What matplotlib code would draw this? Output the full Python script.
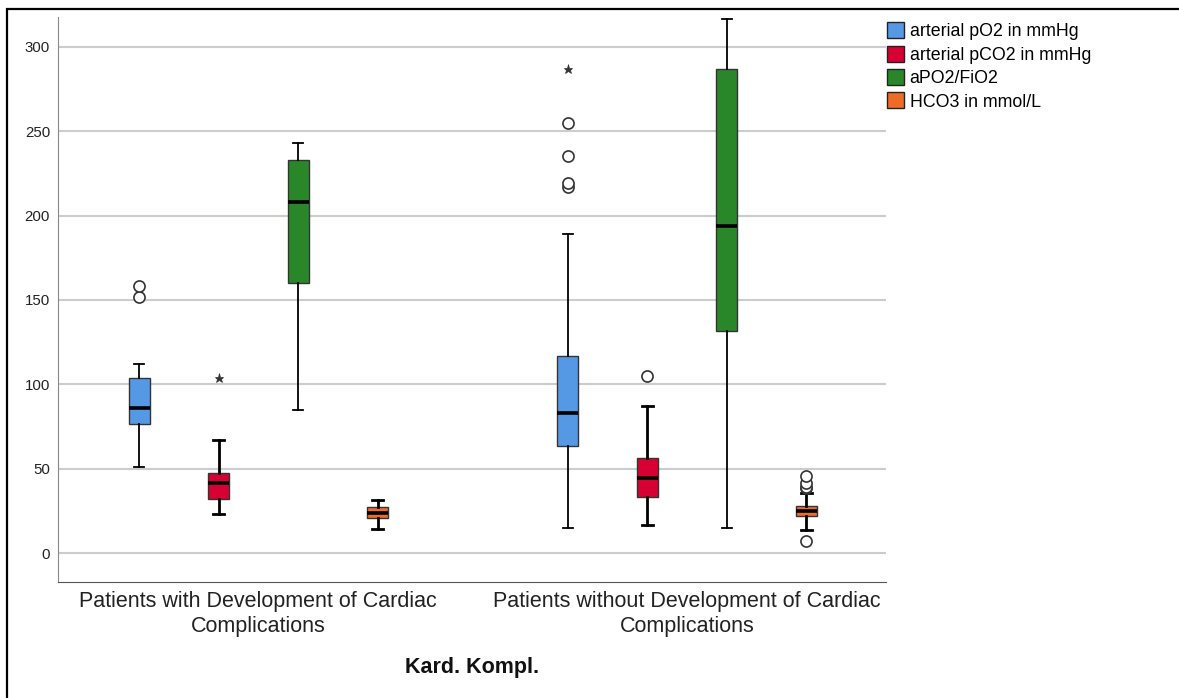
import matplotlib
matplotlib.use("Agg")
import matplotlib.pyplot as plt
from matplotlib.patches import Patch, Rectangle

plt.rcParams['font.family'] = ['Liberation Sans', 'DejaVu Sans']

groups = ["Patients with Development of Cardiac\nComplications",
          "Patients without Development of Cardiac\nComplications"]
series = ["arterial pO2 in mmHg", "arterial pCO2 in mmHg", "aPO2/FiO2", "HCO3 in mmol/L"]
colors = ["#5599e5", "#d60033", "#298729", "#ef6b28"]

# box summaries: (whislo, q1, med, q3, whishi)
with_stats = [
    (51, 76.5, 86, 104, 112),
    (23, 32, 41.5, 47.8, 67.3),
    (85, 160, 208, 233, 243),
    (14.6, 20.7, 23.6, 27.2, 31.3),
]
without_stats = [
    (15, 63.3, 83, 117, 189),
    (17, 33.1, 44.6, 56.7, 87.2),
    (15, 131.5, 193.5, 287, 316.5),
    (13.6, 21.9, 25, 28, 35.5),
]
with_outliers = [[151.6, 158.5], [], [], []]
without_outliers = [[217, 219.5, 235, 255], [105], [], [7.5, 38.6, 39.5, 41.5, 45.7]]
with_extremes = [[], [104], [], []]
without_extremes = [[287], [], [], []]

fig = plt.figure(figsize=(11.79, 6.98), dpi=100)
ax = fig.add_axes([0.0495, 0.1666, 0.702, 0.809])

offsets = [-0.2781, -0.0927, 0.0927, 0.2781]
box_w = 0.049

for g, (stats, outl, extr) in enumerate([(with_stats, with_outliers, with_extremes),
                                           (without_stats, without_outliers, without_extremes)]):
    for i in range(4):
        lo, q1, med, q3, hi = stats[i]
        st = [{"whislo": lo, "q1": q1, "med": med, "q3": q3, "whishi": hi, "fliers": outl[i]}]
        wlw = 1.3 if i in (0, 2) else 2.0
        ax.bxp(st, positions=[g + offsets[i]], widths=box_w, capwidths=box_w * 0.5,
               patch_artist=True, showfliers=True,
               boxprops=dict(facecolor=colors[i], edgecolor="#333333", linewidth=1.0),
               medianprops=dict(color="black", linewidth=2.6),
               whiskerprops=dict(color="black", linewidth=wlw),
               capprops=dict(color="black", linewidth=wlw),
               flierprops=dict(marker="o", markersize=8, markerfacecolor="white",
                               markeredgecolor="#333333", markeredgewidth=1.2),
               zorder=3)
        if extr[i]:
            ax.plot([g + offsets[i]] * len(extr[i]), extr[i], linestyle="none", marker="*",
                    markersize=6.5, markeredgewidth=0.5, color="#333333", zorder=4)

ax.set_xlim(-0.4664, 1.464)
ax.set_ylim(-16.8, 317.5)
ax.set_yticks([0, 50, 100, 150, 200, 250, 300])
ax.set_xticks([0, 1])
ax.set_xticklabels(groups, fontsize=15.5, color="#222222", linespacing=1.2)
ax.tick_params(axis="x", length=0, pad=7)
ax.tick_params(axis="y", length=0, pad=6, labelsize=10.8, labelcolor="#222222")
ax.yaxis.grid(True, color="#cccccc", linewidth=1.5)
ax.set_axisbelow(True)
for s in ["top", "right"]:
    ax.spines[s].set_visible(False)
ax.spines["left"].set_color("#888888")
ax.spines["bottom"].set_color("#555555")
ax.set_xlabel("Kard. Kompl.", fontsize=15.5, fontweight="bold", labelpad=15, color="#111111")

handles = [Patch(facecolor=c, edgecolor="#222222", linewidth=1.0) for c in colors]
fig.legend(handles, series, loc="upper left", bbox_to_anchor=(0.752, 0.968),
           frameon=False, fontsize=12.8, handlelength=1.0, handleheight=1.0,
           handletextpad=0.3, labelspacing=0.3, borderaxespad=0, borderpad=0)

fig.patches.append(Rectangle((7 / 1179, -0.02), 1.05, 1 - 9 / 698 + 0.02,
                             transform=fig.transFigure, fill=False,
                             edgecolor="black", linewidth=1.6, clip_on=False))

fig.savefig("out.png", dpi=100)
